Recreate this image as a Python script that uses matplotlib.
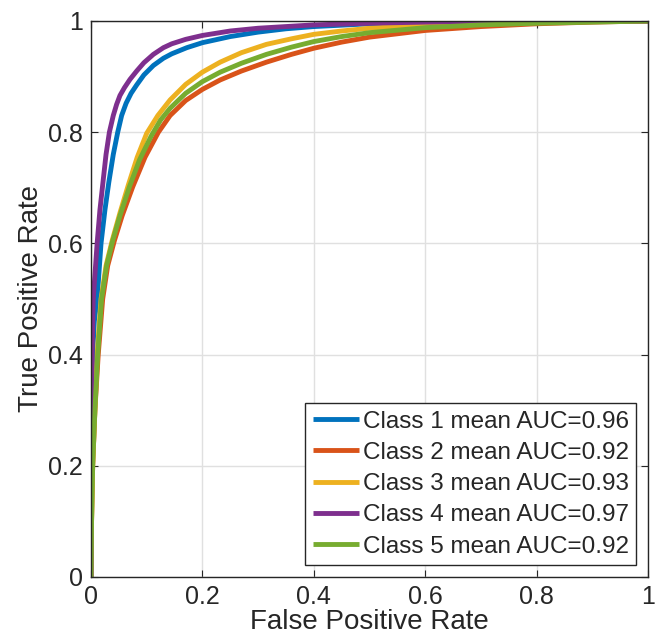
import matplotlib
matplotlib.use("Agg")
import matplotlib.pyplot as plt

plt.rcParams['font.family'] = ['Liberation Sans', 'DejaVu Sans']

labels = ["Class 1 mean AUC=0.96", "Class 2 mean AUC=0.92", "Class 3 mean AUC=0.93",
          "Class 4 mean AUC=0.97", "Class 5 mean AUC=0.92"]
colors = ["#0072BD", "#D95319", "#EDB120", "#7E2F8E", "#77AC30"]

fpr1 = [0, 0.0003, 0.0008, 0.0015, 0.003, 0.006, 0.011, 0.018, 0.025, 0.032, 0.04, 0.048, 0.055, 0.063, 0.072, 0.082, 0.095, 0.112, 0.13, 0.145, 0.172, 0.2, 0.25, 0.3, 0.35, 0.4, 0.5, 0.6, 0.8, 1.0]
tpr1 = [0, 0.1, 0.2, 0.3, 0.4, 0.46, 0.5, 0.6, 0.66, 0.71, 0.76, 0.8, 0.83, 0.852, 0.87, 0.885, 0.903, 0.92, 0.933, 0.941, 0.952, 0.961, 0.972, 0.98, 0.986, 0.99, 0.995, 0.997, 0.999, 1.0]

fpr2 = [0, 0.001, 0.003, 0.007, 0.013, 0.021, 0.03, 0.042, 0.056, 0.075, 0.097, 0.121, 0.142, 0.17, 0.2, 0.232, 0.27, 0.315, 0.36, 0.4, 0.45, 0.5, 0.6, 0.7, 0.8, 0.9, 1.0]
tpr2 = [0, 0.1, 0.2, 0.3, 0.4, 0.5, 0.56, 0.605, 0.65, 0.702, 0.755, 0.8, 0.83, 0.857, 0.877, 0.894, 0.91, 0.926, 0.94, 0.951, 0.962, 0.971, 0.983, 0.99, 0.995, 0.998, 1.0]

fpr3 = [0, 0.001, 0.003, 0.007, 0.011, 0.018, 0.027, 0.038, 0.052, 0.067, 0.083, 0.1, 0.12, 0.142, 0.17, 0.2, 0.232, 0.27, 0.315, 0.36, 0.4, 0.45, 0.5, 0.6, 0.7, 0.8, 1.0]
tpr3 = [0, 0.1, 0.2, 0.3, 0.4, 0.5, 0.56, 0.605, 0.655, 0.705, 0.755, 0.798, 0.83, 0.858, 0.886, 0.908, 0.926, 0.943, 0.958, 0.968, 0.976, 0.982, 0.987, 0.993, 0.996, 0.998, 1.0]

fpr4 = [0, 0.0002, 0.0006, 0.001, 0.002, 0.004, 0.0075, 0.011, 0.016, 0.0215, 0.027, 0.033, 0.04, 0.046, 0.052, 0.06, 0.07, 0.082, 0.095, 0.112, 0.13, 0.145, 0.17, 0.2, 0.25, 0.3, 0.35, 0.4, 0.5, 0.6, 0.7, 0.8, 1.0]
tpr4 = [0, 0.1, 0.2, 0.3, 0.4, 0.5, 0.55, 0.6, 0.66, 0.71, 0.76, 0.8, 0.83, 0.85, 0.866, 0.88, 0.895, 0.91, 0.925, 0.94, 0.952, 0.959, 0.967, 0.974, 0.982, 0.987, 0.99, 0.993, 0.996, 0.998, 0.999, 0.9995, 1.0]

fpr5 = [0, 0.001, 0.003, 0.007, 0.012, 0.019, 0.028, 0.039, 0.052, 0.069, 0.087, 0.108, 0.125, 0.142, 0.17, 0.2, 0.232, 0.27, 0.315, 0.36, 0.4, 0.45, 0.5, 0.6, 0.7, 0.8, 0.9, 1.0]
tpr5 = [0, 0.1, 0.2, 0.3, 0.4, 0.5, 0.56, 0.605, 0.65, 0.702, 0.75, 0.793, 0.822, 0.843, 0.87, 0.891, 0.908, 0.924, 0.94, 0.953, 0.963, 0.972, 0.979, 0.988, 0.993, 0.996, 0.998, 1.0]

curves = [(fpr1, tpr1), (fpr2, tpr2), (fpr3, tpr3), (fpr4, tpr4), (fpr5, tpr5)]

xticks = [0, 0.2, 0.4, 0.6, 0.8, 1]
xticklabels = ["0", "0.2", "0.4", "0.6", "0.8", "1"]
yticks = [0, 0.2, 0.4, 0.6, 0.8, 1]
yticklabels = ["0", "0.2", "0.4", "0.6", "0.8", "1"]

fig = plt.figure(figsize=(6.56, 6.39), dpi=100)
ax = fig.add_axes([91/656, 62/639, 557/656, 556/639])

for (fx, ty), c, lab in zip(curves, colors, labels):
    ax.plot(fx, ty, color=c, lw=3.5, label=lab, solid_joinstyle='round', solid_capstyle='butt')

ax.set_xlim(0, 1)
ax.set_ylim(0, 1)
ax.set_xticks(xticks)
ax.set_xticklabels(xticklabels)
ax.set_yticks(yticks)
ax.set_yticklabels(yticklabels)
ax.grid(True, color="#e0e0e0", lw=1)
ax.set_axisbelow(True)
ax.tick_params(direction='in', length=5, width=0.8, colors="#262626", labelsize=18,
               top=True, right=True, pad=6)
for sp in ax.spines.values():
    sp.set_color("#262626")
    sp.set_linewidth(1)

ax.set_xlabel("False Positive Rate", fontsize=20, color="#262626", labelpad=0)
ax.set_ylabel("True Positive Rate", fontsize=20, color="#262626", labelpad=3)

leg = ax.legend(loc='lower right', fontsize=17.5, frameon=True, fancybox=False,
                edgecolor="#262626", framealpha=1, handlelength=1.9, handletextpad=0.15,
                borderpad=0.3, labelspacing=0.38, borderaxespad=0.5)
leg.get_frame().set_linewidth(1)
for t in leg.get_texts():
    t.set_color("#262626")

fig.savefig("out.png", dpi=100)
